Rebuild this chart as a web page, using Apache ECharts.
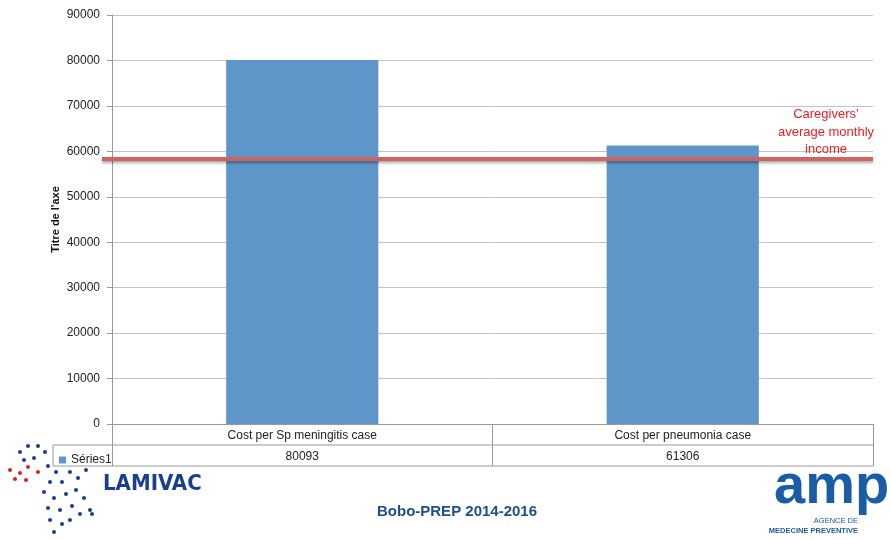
<!DOCTYPE html>
<html><head><meta charset="utf-8">
<script src="https://cdn.jsdelivr.net/npm/echarts@6/dist/echarts.min.js"></script>
<style>html,body{margin:0;padding:0;background:#fff}#c{width:891px;height:540px}</style>
</head><body><div id="c"></div>
<script>
const categories = ['Cost per Sp meningitis case', 'Cost per pneumonia case'];
const values = [80093, 61306];
const seriesName = 'Séries1';
const incomeValue = 58300;
const incomeLabel = ['Caregivers’', 'average monthly', 'income'];
const yTicks = [0, 90000, 10000];

const chart = echarts.init(document.getElementById('c'));
const font = 'Liberation Sans, Arial, sans-serif';
const option = {
  animation: false,
  grid: {left: 112, right: 18, top: 15, bottom: 116},
  legend: {left: 54, top: 449, itemWidth: 7, itemHeight: 7, icon: 'rect', itemGap: 2,
    textStyle: {fontSize: 12, color: '#222', fontFamily: font}, data: [seriesName]},
  xAxis: {
    type: 'category', data: categories, boundaryGap: true,
    axisLine: {lineStyle: {color: '#999', width: 1}},
    axisTick: {show: true, interval: 0, length: 42, lineStyle: {color: '#999'}, alignWithLabel: false},
    axisLabel: {margin: 1, interval: 0,
      formatter: (v, i) => '{a|' + v + '}\n{b|' + values[i] + '}',
      rich: {a: {fontSize: 12, color: '#222', fontFamily: font, lineHeight: 21},
             b: {fontSize: 12, color: '#222', fontFamily: font, lineHeight: 21}}}
  },
  yAxis: {
    type: 'value', min: yTicks[0], max: yTicks[1], interval: yTicks[2],
    name: "Titre de l'axe", nameLocation: 'middle', nameGap: 51, nameRotate: 90, nameMoveOverlap: false,
    nameTextStyle: {fontSize: 11, fontWeight: 'bold', color: '#111', fontFamily: font},
    axisLine: {show: true, lineStyle: {color: '#999'}},
    axisTick: {show: true, length: 5, lineStyle: {color: '#999'}},
    axisLabel: {fontSize: 12, color: '#222', fontFamily: font, margin: 12, formatter: v => String(v)},
    splitLine: {lineStyle: {color: '#c4c4c4', width: 1}}
  },
  series: [{
    name: seriesName, type: 'bar', data: values, barWidth: '40%',
    itemStyle: {color: '#5f96c9'}
  }]
};
chart.setOption(option);

const yInc = chart.convertToPixel({yAxisIndex: 0}, incomeValue);
const y0 = chart.convertToPixel({yAxisIndex: 0}, 0);
const xL = 112, xR = 873;
const rowH = 21;
const lineStyle = {stroke: '#999', lineWidth: 1};
const dots = [];
// decorative LAMIVAC network dots
const pts = [[20,452,'#1b3f8f'],[28,446,'#1b3f8f'],[38,446,'#1b3f8f'],[45,452,'#1b3f8f'],[24,460,'#1b3f8f'],[34,458,'#1b3f8f'],
 [10,470,'#e02020'],[20,473,'#e02020'],[28,467,'#e02020'],[38,472,'#e02020'],[26,480,'#e02020'],[15,479,'#e02020'],
 [48,466,'#1b3f8f'],[56,472,'#1b3f8f'],[50,482,'#1b3f8f'],[62,482,'#1b3f8f'],[70,472,'#1b3f8f'],[78,478,'#1b3f8f'],[86,470,'#1b3f8f'],
 [44,492,'#1b3f8f'],[54,498,'#1b3f8f'],[66,494,'#1b3f8f'],[76,490,'#1b3f8f'],[84,498,'#1b3f8f'],[48,508,'#1b3f8f'],[60,510,'#1b3f8f'],
 [72,506,'#1b3f8f'],[80,514,'#1b3f8f'],[50,520,'#1b3f8f'],[62,524,'#1b3f8f'],[70,520,'#1b3f8f'],[54,532,'#1b3f8f'],[90,510,'#1b3f8f'],[92,514,'#1b3f8f']];
pts.forEach(p => dots.push({type: 'circle', shape: {cx: p[0], cy: p[1], r: 2}, style: {fill: p[2]}}));
chart.setOption({graphic: [
  {type: 'line', shape: {x1: 53, y1: y0 + rowH, x2: xR, y2: y0 + rowH}, style: lineStyle},
  {type: 'line', shape: {x1: 53, y1: y0 + 2*rowH, x2: xR, y2: y0 + 2*rowH}, style: lineStyle},
  {type: 'line', shape: {x1: 53, y1: y0 + rowH, x2: 53, y2: y0 + 2*rowH}, style: lineStyle},
  {type: 'line', shape: {x1: 102, y1: yInc, x2: xR, y2: yInc}, z: 100,
    style: {stroke: '#cd6462', lineWidth: 4, shadowBlur: 3, shadowOffsetY: 2, shadowColor: 'rgba(0,0,0,0.35)'}},
  {type: 'text', x: 826, y: 106, z: 100, style: {text: incomeLabel.join('\n'), fill: '#ee1c1c', font: '13px ' + font, lineHeight: 17.5, align: 'center'}},
  {type: 'text', x: 103, y: 473, style: {text: 'LAMIVAC', fill: '#1b3f8f', font: 'bold 22px "DejaVu Sans Condensed", ' + font}},
  {type: 'text', x: 457, y: 504, style: {text: 'Bobo-PREP 2014-2016', fill: '#1f4e8c', font: 'bold 15px ' + font, align: 'center'}},
  {type: 'text', x: 774, y: 460, style: {text: 'amp', fill: '#1a5ca6', font: 'bold 56px ' + font}},
  {type: 'text', x: 858, y: 517, style: {text: 'AGENCE DE', fill: '#1a5ca6', font: '7.5px ' + font, align: 'right'}},
  {type: 'text', x: 858, y: 527, style: {text: 'MEDECINE PREVENTIVE', fill: '#1a5ca6', font: 'bold 7.5px ' + font, align: 'right'}}
].concat(dots)});
</script></body></html>
